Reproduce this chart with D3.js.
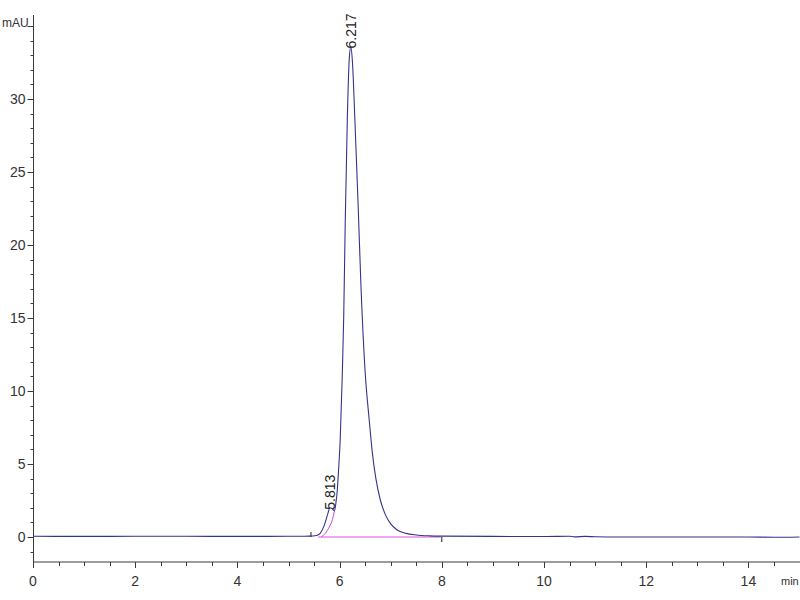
<!DOCTYPE html>
<html>
<head>
<meta charset="utf-8">
<script src="https://cdn.jsdelivr.net/npm/d3@7"></script>
<style>
  body { margin: 0; background: #fff; }
  text { font-family: "Liberation Sans Narrow", "Liberation Sans", Arial, sans-serif; fill: #333; }
</style>
</head>
<body>
<svg id="chart" width="800" height="600"></svg>
<script>
// chromatogram signal, [time (min), mAU]
var signal = [
  [0, 0.05], [1, 0.04], [2, 0.05], [3, 0.05], [4, 0.04], [5, 0.05], [5.4, 0.06],
  [5.55, 0.1], [5.62, 0.25], [5.7, 0.8], [5.77, 1.6], [5.81, 2.0], [5.85, 1.95],
  [5.9, 1.8], [5.93, 2.4], [5.95, 3.0], [5.98, 4.6], [6.01, 6.5], [6.05, 10.8],
  [6.08, 15], [6.11, 21.5], [6.15, 28.5], [6.19, 32.8], [6.22, 33.6], [6.25, 32.6],
  [6.3, 28.5], [6.36, 23], [6.42, 17], [6.5, 11.3], [6.58, 8.0], [6.64, 5.8],
  [6.71, 4.0], [6.8, 2.5], [6.9, 1.5], [7.0, 0.9], [7.12, 0.5], [7.3, 0.25],
  [7.5, 0.14], [7.75, 0.08], [8.0, 0.06], [9, 0.04], [10, 0.03], [10.5, 0.05],
  [10.6, 0.01], [10.8, 0.04], [11.0, 0.02], [11.5, 0.0], [12, 0.0], [13, 0.0],
  [14, 0.0], [14.5, -0.02], [15, 0.0]
];
// integration skim under the shoulder
var skim = [[5.64, 0], [5.72, 0.25], [5.8, 0.7], [5.86, 1.2], [5.9, 1.8]];
var baseline = [[5.58, 0], [7.98, 0]];
var peaks = [{ rt: "6.217", t: 6.217, v: 33.6 }, { rt: "5.813", t: 5.813, v: 2.0 }];
var events = [{ t: 5.44, dir: -1 }, { t: 8.0, dir: 1 }];
var xTicks = [0, 2, 4, 6, 8, 10, 12, 14];
var yTicks = [0, 5, 10, 15, 20, 25, 30];

var svg = d3.select("#chart");
var x = d3.scaleLinear().domain([0, 15]).range([33, 799.5]);
var y = d3.scaleLinear().domain([0, 30]).range([537, 99]);
var axisColor = "#3a3a3a";

// x axis
var xAxisY = 562;
var gx = svg.append("g").attr("transform", "translate(0," + xAxisY + ")");
gx.append("line").attr("x1", x(0)).attr("x2", 800).attr("stroke", axisColor);
gx.selectAll(".minor").data(d3.range(0, 15.01, 0.5)).enter().append("line")
  .attr("x1", function(d) { return Math.round(x(d)) + 0.5; })
  .attr("x2", function(d) { return Math.round(x(d)) + 0.5; })
  .attr("y1", 0)
  .attr("y2", function(d) { return d % 2 === 0 ? 6 : 4; })
  .attr("stroke", axisColor);
gx.selectAll("text").data(xTicks).enter().append("text")
  .attr("x", function(d) { return x(d); })
  .attr("y", 24)
  .attr("text-anchor", "middle")
  .attr("font-size", 14)
  .text(function(d) { return d; });
svg.append("text").attr("x", 781).attr("y", 585).attr("font-size", 11).text("min");

// y axis
var gy = svg.append("g").attr("transform", "translate(33.5,0)");
gy.append("line").attr("y1", 15).attr("y2", xAxisY).attr("stroke", axisColor);
gy.selectAll(".minor").data(d3.range(-1, 36, 1)).enter().append("line")
  .attr("y1", function(d) { return Math.round(y(d)) + 0.5; })
  .attr("y2", function(d) { return Math.round(y(d)) + 0.5; })
  .attr("x1", function(d) { return d % 5 === 0 ? -6 : -3; })
  .attr("x2", 0)
  .attr("stroke", axisColor);
gy.selectAll("text").data(yTicks).enter().append("text")
  .attr("x", -8)
  .attr("y", function(d) { return y(d) + 5; })
  .attr("text-anchor", "end")
  .attr("font-size", 14)
  .text(function(d) { return d; });
svg.append("text").attr("x", 2).attr("y", 27).attr("font-size", 12).text("mAU");

var line = d3.line()
  .x(function(d) { return x(d[0]); })
  .y(function(d) { return y(d[1]); })
  .curve(d3.curveMonotoneX);

// integration baseline and skim
svg.append("path").datum(baseline).attr("d", line)
  .attr("fill", "none").attr("stroke", "#e050e0").attr("stroke-width", 1.2);
svg.append("path").datum(skim).attr("d", line)
  .attr("fill", "none").attr("stroke", "#d040d0").attr("stroke-width", 1);

// signal
svg.append("path").datum(signal).attr("d", line)
  .attr("fill", "none").attr("stroke", "#34348a").attr("stroke-width", 1.1);

// integration event marks
svg.selectAll(".ev").data(events).enter().append("line")
  .attr("x1", function(d) { return x(d.t); })
  .attr("x2", function(d) { return x(d.t); })
  .attr("y1", y(0))
  .attr("y2", function(d) { return y(0) + d.dir * 5; })
  .attr("stroke", "#222");

// retention time labels
svg.selectAll(".rt").data(peaks).enter().append("text")
  .attr("transform", function(d) {
    return "translate(" + (x(d.t) + 5) + "," + (y(d.v) + 2) + ") rotate(-90)";
  })
  .attr("font-size", 14)
  .style("fill", "#222")
  .text(function(d) { return d.rt; });
</script>
</body>
</html>
